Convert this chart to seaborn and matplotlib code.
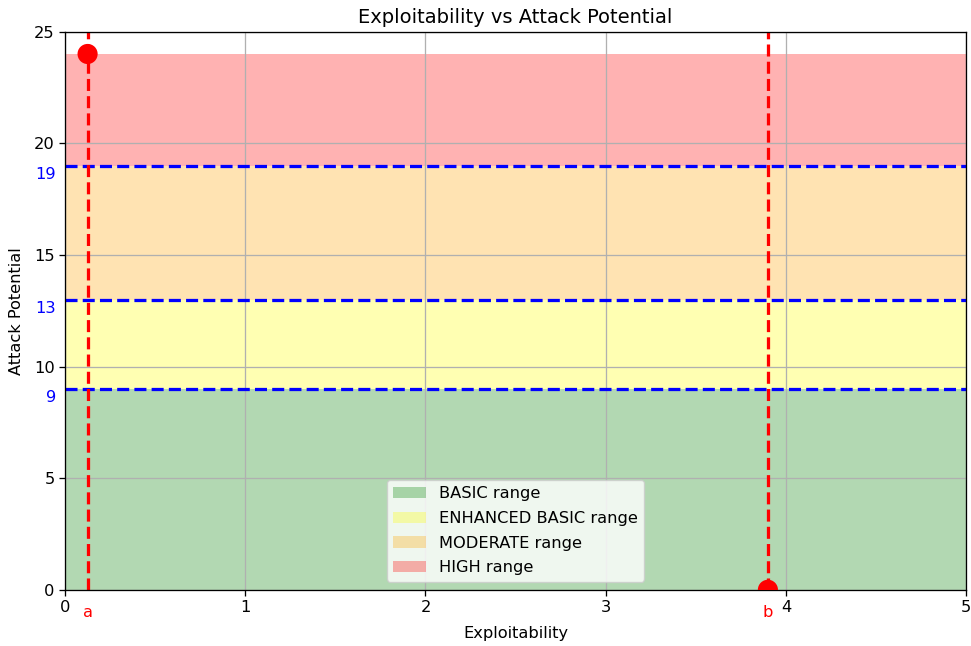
import matplotlib
matplotlib.use("Agg")
import matplotlib.pyplot as plt
import seaborn as sns
import pandas as pd

# Data
range_names = ["BASIC range", "ENHANCED BASIC range", "MODERATE range", "HIGH range"]
range_low = [0, 9, 13, 19]
range_high = [9, 13, 19, 24]
range_colors = ["green", "yellow", "orange", "red"]
thresholds = [9, 13, 19]
point_labels = ["a", "b"]
point_x = [0.125, 3.9]
point_y = [24, 0]

k = 1.17
plt.rcParams.update({
    "font.size": 10 * k,
    "axes.linewidth": 0.8 * k,
    "xtick.major.size": 3.5 * k,
    "ytick.major.size": 3.5 * k,
    "xtick.major.width": 0.8 * k,
    "ytick.major.width": 0.8 * k,
})

fig, ax = plt.subplots(figsize=(9.71, 6.46), dpi=100)
fig.subplots_adjust(left=0.067, right=0.995, top=0.951, bottom=0.087)

for lo, hi, c, n in zip(range_low, range_high, range_colors, range_names):
    ax.axhspan(lo, hi, color=c, alpha=0.3, label=n, linewidth=0)

for t in thresholds:
    ax.axhline(t, color="blue", linestyle="--", linewidth=2 * k)
    ax.text(-0.05, t - 0.05, str(t), color="blue", ha="right", va="top", fontsize=10 * k, clip_on=False)

for px in point_x:
    ax.axvline(px, color="red", linestyle="--", linewidth=2 * k, zorder=2)

df = pd.DataFrame({"x": point_x, "y": point_y, "label": point_labels})
sns.scatterplot(data=df, x="x", y="y", color="red", s=210, edgecolor="none", ax=ax, zorder=5, legend=False)

for lbl, px in zip(point_labels, point_x):
    ax.text(px, -0.7, lbl, color="red", ha="center", va="top", fontsize=10 * k, clip_on=False)

ax.set_xlim(0, 5)
ax.set_ylim(0, 25)
ax.set_yticks([0, 5, 10, 15, 20, 25])
ax.set_xticks([0, 1, 2, 3, 4, 5])
ax.grid(True, color="#b0b0b0", linewidth=0.8 * k)
ax.set_xlabel("Exploitability", labelpad=8)
ax.set_ylabel("Attack Potential", labelpad=7)
ax.set_title("Exploitability vs Attack Potential", fontsize=12 * k)
ax.legend(loc="lower center", fontsize=10 * k, labelspacing=0.59)

fig.savefig("out.png", dpi=100)
